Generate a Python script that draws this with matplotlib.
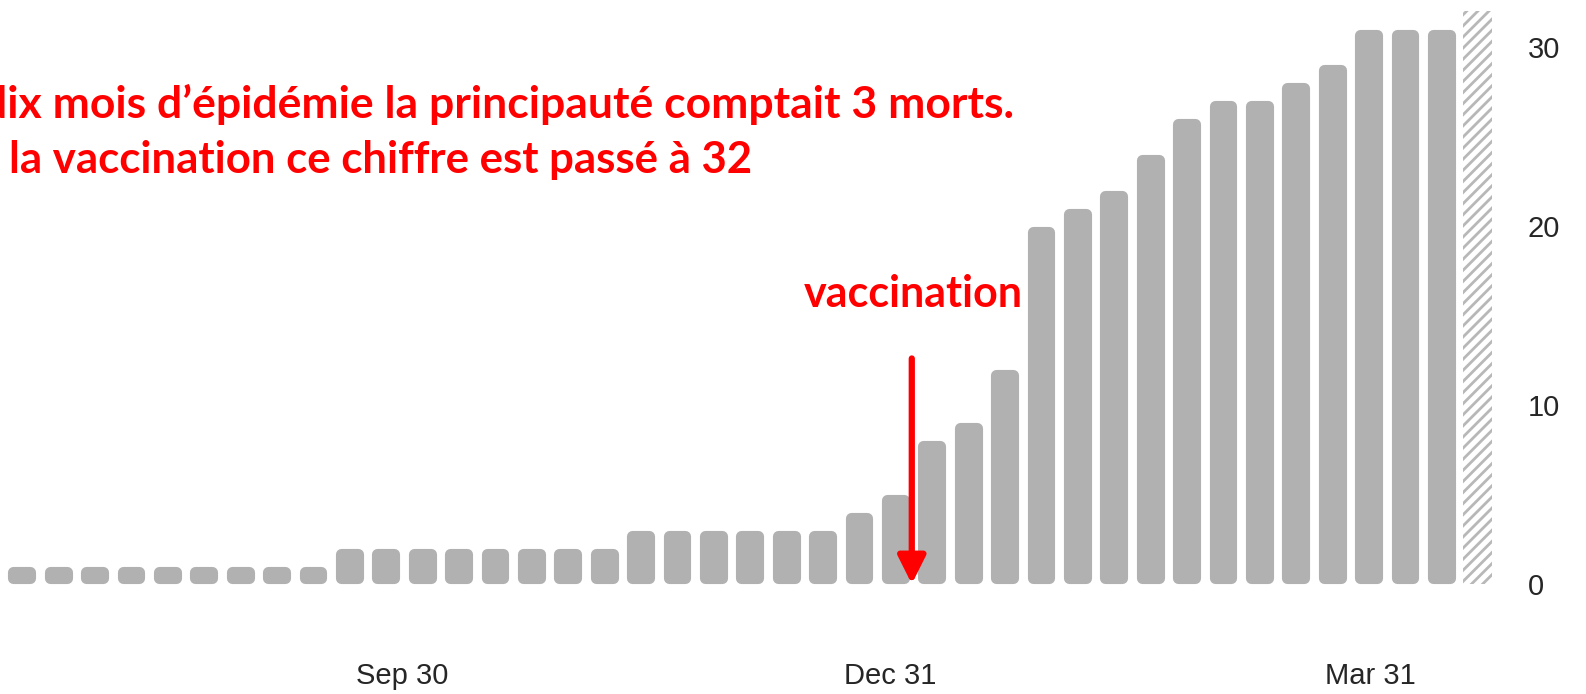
import numpy as np
import matplotlib.pyplot as plt
from matplotlib import font_manager

# ---------------------------------------------------------------------------
# Données : morts cumulées (hebdomadaire), dernière barre = semaine en cours
# ---------------------------------------------------------------------------
MORTS = [1] * 9 + [2] * 8 + [3] * 6 + [4, 5, 8, 9, 12, 20, 21, 22, 24, 26,
                                        27, 27, 28, 29, 31, 31, 31]
MORTS_PARTIEL = 32                       # barre hachurée (semaine incomplète)

DATES_POS = [10.45, 23.85, 37.05]        # position des dates dans l'axe
DATES_LABELS = ["Sep 30", "Dec 31", "Mar 31"]
Y_TICKS = [0, 10, 20, 30]

VACCINATION_POS = 24.45
VACCINATION_HAUT = 12.6

TITRE_1 = "dix mois d’épidémie la principauté comptait 3 morts."
TITRE_2 = "la vaccination ce chiffre est passé à 32"

GRIS = "#b1b1b1"
ROUGE = "#ff0000"

PX_X = 36.4        # pixels par barre
PX_Y = 17.9        # pixels par mort
BORD = 8           # épaisseur (pt) du bord arrondi des barres

# police des graduations : version étroite si elle existe
dispo = {f.name for f in font_manager.fontManager.ttflist}
if "Liberation Sans Narrow" in dispo:
    POLICE_AXES, TAILLE_AXES = "Liberation Sans Narrow", 25
else:
    POLICE_AXES, TAILLE_AXES = "Liberation Sans", 21

plt.rcParams["hatch.linewidth"] = 2.0

fig = plt.figure(figsize=(15.86, 6.94), dpi=100)
ax = fig.add_axes([0, 60 / 694, 1500 / 1586, 634 / 694])

# le bord arrondi déborde de BORD/2 pt : on le retire de la hauteur et largeur
bord_px = BORD * 100 / 72
marge = bord_px / 2 / PX_Y
x = np.arange(len(MORTS))
ax.bar(x, np.array(MORTS) - 2 * marge, bottom=marge,
       width=(28 - bord_px) / PX_X, color=GRIS, edgecolor=GRIS,
       linewidth=BORD, joinstyle="round", zorder=2)
ax.bar(len(MORTS), MORTS_PARTIEL, width=0.79, facecolor="white",
       edgecolor="#b8b8b8", hatch="///", linewidth=0, zorder=2)

ax.set_xlim(-21.8 / PX_X, (1500 - 21.8) / PX_X)
ax.set_ylim(-50 / PX_Y, 584 / PX_Y)

for s in ax.spines.values():
    s.set_visible(False)

ax.yaxis.tick_right()
ax.set_yticks(Y_TICKS)
ax.set_xticks(DATES_POS)
ax.set_xticklabels(DATES_LABELS)
ax.tick_params(axis="both", length=0, labelsize=TAILLE_AXES, labelcolor="#262626")
ax.tick_params(axis="y", pad=20)
ax.tick_params(axis="x", pad=20)
for lab in ax.get_xticklabels() + ax.get_yticklabels():
    lab.set_family([POLICE_AXES, "DejaVu Sans"])

# flèche « vaccination »
ax.annotate("", xy=(VACCINATION_POS, 0), xytext=(VACCINATION_POS, VACCINATION_HAUT),
            arrowprops=dict(arrowstyle="-|>", lw=4.5, color=ROUGE,
                            mutation_scale=42, shrinkA=0, shrinkB=0),
            zorder=5)
ax.text(VACCINATION_POS + 0.05, VACCINATION_HAUT + 3.6, "vaccination",
        color=ROUGE, fontsize=31, fontweight="bold", family=["Lato", "DejaVu Sans"],
        ha="center", va="center", zorder=5)

# texte rouge (coupé à gauche comme sur l'original)
fig.text(-18 / 1586, 1 - 118 / 694, TITRE_1, color=ROUGE, fontsize=32,
         fontweight="bold", family=["Lato", "DejaVu Sans"], va="baseline")
fig.text(9 / 1586, 1 - 173 / 694, TITRE_2, color=ROUGE, fontsize=31.5,
         fontweight="bold", family=["Lato", "DejaVu Sans"], va="baseline")

fig.savefig("out.png", dpi=100, facecolor="white")
